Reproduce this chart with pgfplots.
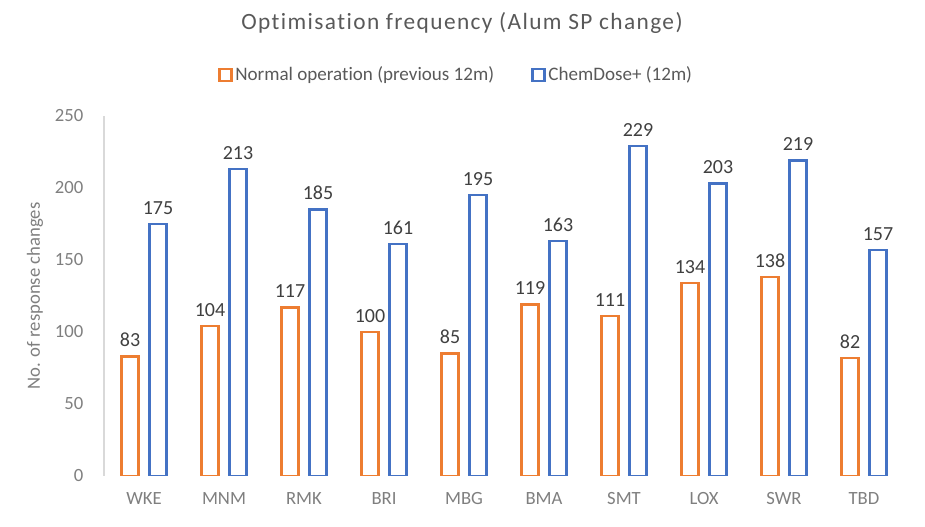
\documentclass[border=0pt]{standalone}
\usepackage{pgfplots}
\pgfplotsset{compat=1.18}
\usepackage{fontspec}
\setmainfont{Carlito}[Ligatures=NoCommon]

\definecolor{normal}{HTML}{ED7D31}
\definecolor{chem}{HTML}{4472C4}
\definecolor{txt}{HTML}{595959}
\definecolor{tick}{HTML}{7F7F7F}
\definecolor{vals}{HTML}{404040}
\definecolor{axisline}{HTML}{D9D9D9}

\pgfplotstableread{
x name normal chem
0 WKE 83 175
1 MNM 104 213
2 RMK 117 185
3 BRI 100 161
4 MBG 85 195
5 BMA 119 163
6 SMT 111 229
7 LOX 134 203
8 SWR 138 219
9 TBD 82 157
}\datatable

\begin{document}
\begin{tikzpicture}
\useasboundingbox (-78pt,-38.25pt) rectangle (615.75pt,357pt);
\begin{axis}[
    at={(0,0)}, anchor=south west,
    scale only axis,
    width=600pt, height=270pt,
    ybar, bar width=12.75pt,
    xmin=-0.5, xmax=9.5,
    ymin=0, ymax=250,
    ytick={0,50,...,250},
    xtick=data,
    xticklabels from table={\datatable}{name},
    major tick length=0pt,
    axis x line*=bottom,
    x axis line style={draw=none, -},
    axis y line*=left,
    y axis line style={draw=axisline, line width=0.8pt, -},
    tick label style={font=\fontsize{14}{16}\selectfont, text=tick},
    /pgf/number format/assume math mode=true,
    yticklabel style={xshift=-12pt},
    xticklabel style={yshift=-9pt},
    ylabel={No. of response changes},
    ylabel style={at={(axis description cs:-0.0863,0.5)}, anchor=center, rotate=0, font=\fontsize{14}{16}\selectfont, text=tick},
    title={Optimisation frequency (Alum SP change)},
    title style={at={(axis description cs:0.4475,1.219)}, anchor=base, font=\fontsize{17.5}{20}\selectfont\addfontfeatures{LetterSpace=6}, text=txt},
    nodes near coords,
    nodes near coords style={font=\fontsize{15}{17}\selectfont, text=vals, yshift=3pt},
    every node near coord/.append style={/pgf/number format/assume math mode=true},
    legend columns=2,
    legend style={at={(axis description cs:0.1425,1.114)}, anchor=west, draw=none, fill=none, inner sep=0pt,
        font=\fontsize{14.3}{16}\selectfont, text=txt,
        /tikz/every even column/.append style={column sep=26pt}},
    legend image code/.code={\draw[#1, line width=1.8pt] (0pt,-4.5pt) rectangle (9pt,4.5pt);},
]
\addplot[draw=normal, fill=white, line width=1.8pt, bar shift=-10.5pt] table[x=x, y=normal] {\datatable};
\addplot[draw=chem, fill=white, line width=1.8pt, bar shift=10.5pt] table[x=x, y=chem] {\datatable};
\legend{Normal operation (previous 12m), ChemDose+ (12m)}
\end{axis}
\end{tikzpicture}
\end{document}
